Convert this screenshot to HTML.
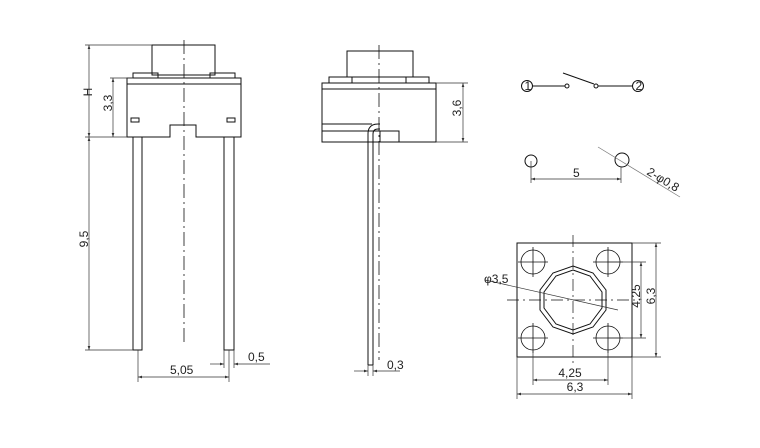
<!DOCTYPE html>
<html><head><style>body{margin:0;background:#fff}svg{display:block}text{font-family:"Liberation Sans",sans-serif;font-size:12px;fill:#222}</style></head><body>
<svg width="760" height="448" viewBox="0 0 760 448" xmlns="http://www.w3.org/2000/svg" fill="none" stroke="#111" stroke-width="1">
<defs><marker id="a" markerWidth="6" markerHeight="4" refX="6" refY="2" orient="auto-start-reverse"><path d="M0,0L6,2L0,4z" fill="#333" stroke="none"/></marker></defs>
<!-- front view -->
<rect x="152" y="45" width="63" height="30"/>
<rect x="133" y="73" width="25" height="5"/><rect x="210" y="73" width="25" height="5"/>
<path d="M127,78H241V137H196V125H170V137H127Z"/><line x1="127" y1="84" x2="241" y2="84"/>
<rect x="131" y="118" width="8" height="4"/><rect x="227" y="118" width="8" height="4"/>
<rect x="133" y="137" width="9" height="213"/><rect x="224" y="137" width="10" height="213"/>
<line x1="184" y1="40" x2="184" y2="345" stroke-dasharray="14,4,2,4" stroke-width="0.8"/>
<g stroke-width="0.7" stroke="#333">
<line x1="85" y1="45" x2="152" y2="45"/><line x1="85" y1="137" x2="127" y2="137"/><line x1="85" y1="350" x2="133" y2="350"/>
<line x1="110" y1="78" x2="133" y2="78"/>
<line x1="89" y1="45" x2="89" y2="137" marker-start="url(#a)" marker-end="url(#a)"/>
<line x1="89" y1="137" x2="89" y2="350" marker-start="url(#a)" marker-end="url(#a)"/>
<line x1="113" y1="78" x2="113" y2="137" marker-start="url(#a)" marker-end="url(#a)"/>
<line x1="138" y1="350" x2="138" y2="382"/><line x1="229" y1="350" x2="229" y2="382"/>
<line x1="224" y1="350" x2="224" y2="368"/><line x1="234" y1="350" x2="234" y2="368"/>
<line x1="138" y1="377" x2="229" y2="377" marker-start="url(#a)" marker-end="url(#a)"/>
<line x1="210" y1="364" x2="224" y2="364" marker-end="url(#a)"/><line x1="270" y1="364" x2="234" y2="364" marker-end="url(#a)"/>
</g>
<text x="88" y="96" transform="rotate(-90 88 92)" text-anchor="middle" stroke="none">H</text>
<text x="112" y="111" transform="rotate(-90 108 107)" text-anchor="middle" stroke="none">3,3</text>
<text x="88" y="247" transform="rotate(-90 84 243)" text-anchor="middle" stroke="none">9,5</text>
<text x="170" y="374" stroke="none">5,05</text><text x="248" y="361" stroke="none">0,5</text>
<!-- side view -->
<rect x="347" y="51" width="66" height="26"/>
<rect x="329" y="77" width="23" height="6"/><rect x="406" y="77" width="23" height="6"/>
<rect x="322" y="83" width="114" height="59"/><line x1="322" y1="89" x2="436" y2="89"/>
<path d="M322,124H372"/><path d="M322,131H380M380,131V142M380,131H399V142"/>
<path d="M368,365V134Q368,124 378,124H380M373,365V134Q373,129 378,129H380"/><line x1="368" y1="365" x2="373" y2="365"/>
<line x1="379" y1="45" x2="379" y2="360" stroke-dasharray="14,4,2,4" stroke-width="0.8"/>
<g stroke-width="0.7" stroke="#333">
<line x1="436" y1="83" x2="468" y2="83"/><line x1="436" y1="142" x2="468" y2="142"/>
<line x1="463" y1="83" x2="463" y2="142" marker-start="url(#a)" marker-end="url(#a)"/>
<line x1="368" y1="365" x2="368" y2="376"/><line x1="373" y1="365" x2="373" y2="376"/>
<line x1="354" y1="371" x2="368" y2="371" marker-end="url(#a)"/><line x1="400" y1="371" x2="373" y2="371" marker-end="url(#a)"/>
</g>
<text x="461" y="116" transform="rotate(-90 457 112)" text-anchor="middle" stroke="none">3,6</text>
<text x="387" y="369" stroke="none">0,3</text>
<!-- switch symbol -->
<circle cx="527" cy="86" r="5.5"/><text x="524.5" y="90" font-size="9" stroke="none">1</text>
<line x1="533" y1="86" x2="565" y2="86"/><circle cx="567" cy="86" r="2"/>
<line x1="563" y1="73" x2="594" y2="84"/><circle cx="596" cy="86" r="2"/>
<line x1="598" y1="86" x2="632" y2="86"/><circle cx="638" cy="86" r="5.5"/><text x="635.5" y="90" font-size="9" stroke="none">2</text>
<!-- holes -->
<circle cx="531" cy="161" r="6"/><circle cx="622" cy="160" r="7"/>
<g stroke-width="0.7" stroke="#333">
<line x1="531" y1="161" x2="531" y2="183"/><line x1="621" y1="167" x2="621" y2="183"/>
<line x1="531" y1="179" x2="621" y2="179" marker-start="url(#a)" marker-end="url(#a)"/>
<line x1="598" y1="147" x2="680" y2="197" stroke="#777"/>
</g>
<text x="573" y="177" stroke="none">5</text>
<text x="646" y="174" transform="rotate(31 646 174)" stroke="none" fill="#999">2-φ0,8</text>
<!-- bottom view -->
<rect x="517" y="243" width="115" height="114"/>
<g stroke-width="0.8">
<circle cx="533" cy="262" r="12"/><circle cx="608" cy="262" r="12"/><circle cx="533" cy="338" r="12"/><circle cx="608" cy="338" r="12"/>
<path d="M518,262H548M533,247V277M593,262H623M608,247V277M518,338H548M533,323V353M593,338H623M608,323V353"/>
</g>
<polygon points="573,266 593,273 606,290 606,310 593,327 573,334 553,327 540,310 540,290 553,273"/>
<polygon points="573,270 590,276 602,292 602,308 590,324 573,330 556,324 544,308 544,292 556,276"/>
<g stroke-width="0.7" stroke-dasharray="12,4,2,4">
<line x1="507" y1="300" x2="640" y2="300"/><line x1="573" y1="235" x2="573" y2="365"/>
</g>
<g stroke-width="0.7" stroke="#333">
<line x1="485" y1="280" x2="618" y2="310"/>
<line x1="608" y1="262" x2="646" y2="262"/><line x1="608" y1="338" x2="646" y2="338"/>
<line x1="632" y1="243" x2="661" y2="243"/><line x1="632" y1="357" x2="661" y2="357"/>
<line x1="641" y1="262" x2="641" y2="338" marker-start="url(#a)" marker-end="url(#a)"/>
<line x1="656" y1="243" x2="656" y2="357" marker-start="url(#a)" marker-end="url(#a)"/>
<line x1="533" y1="350" x2="533" y2="385"/><line x1="608" y1="350" x2="608" y2="385"/>
<line x1="517" y1="357" x2="517" y2="399"/><line x1="632" y1="357" x2="632" y2="399"/>
<line x1="533" y1="380" x2="608" y2="380" marker-start="url(#a)" marker-end="url(#a)"/>
<line x1="517" y1="394" x2="632" y2="394" marker-start="url(#a)" marker-end="url(#a)"/>
</g>
<text x="484" y="283" stroke="none">φ3,5</text>
<text x="640" y="304" transform="rotate(-90 636 300)" text-anchor="middle" stroke="none">4,25</text>
<text x="655" y="304" transform="rotate(-90 651 300)" text-anchor="middle" stroke="none">6,3</text>
<text x="570" y="377" text-anchor="middle" stroke="none">4,25</text>
<text x="575" y="391" text-anchor="middle" stroke="none">6,3</text>
</svg>
</body></html>
